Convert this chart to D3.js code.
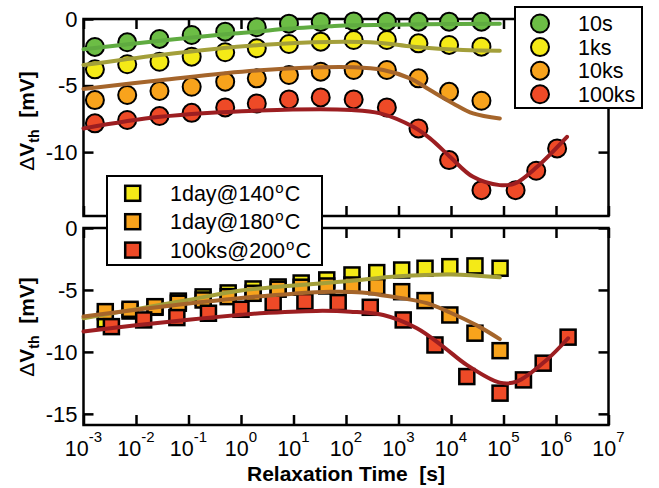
<!DOCTYPE html>
<html><head><meta charset="utf-8">
<script src="https://cdn.jsdelivr.net/npm/d3@7"></script>
<style>body{margin:0;background:#fff}svg{display:block}text{font-family:"Liberation Sans",Arial,Helvetica,sans-serif}</style>
</head><body>
<svg id="c" width="659" height="488"></svg>
<script>
// ---------- data ----------
const xTickValues = [1e-3,1e-2,1e-1,1e0,1e1,1e2,1e3,1e4,1e5,1e6,1e7];
const xTickExponents = ["-3","-2","-1","0","1","2","3","4","5","6","7"];
const yTopTicks = [0,-5,-10];
const yBotTicks = [0,-5,-10,-15];

// top panel: stress time series (circles)
const topSeriesNames = ["10s","1ks","10ks","100ks"];
const topTimes = [1.65e-3,6.8e-3,0.028,0.115,0.5,2.0,8.2,33,140,600,2400,9200,3.8e4,1.7e5,4.2e5,1.05e6];
const dv10s   = [-2.1,-1.75,-1.5,-1.2,-0.95,-0.62,-0.35,-0.22,-0.18,-0.2,-0.2,-0.2,-0.2];
const dv1ks   = [-3.78,-3.4,-3.21,-2.83,-2.5,-2.2,-1.88,-1.7,-1.58,-1.58,-1.83,-1.95,-2.08];
const dv10ks  = [-6.09,-5.71,-5.41,-5.09,-4.71,-4.46,-4.21,-3.96,-3.83,-3.83,-4.46,-5.47,-6.14];
const dv100ks = [-7.84,-7.59,-7.29,-7.05,-6.64,-6.34,-6.04,-5.89,-6.04,-6.64,-8.22,-10.6,-12.86,-12.86,-11.4,-9.72];

// top panel fitted curves
const fit10sT   = [1e-3,0.029,0.5,2.3,5.5,49,141,3200,8.5e4];
const fit10sV   = [-2.28,-1.63,-1.15,-0.93,-0.77,-0.55,-0.47,-0.4,-0.36];
const fit1ksT   = [1e-3,0.029,2.3,49,398,1905,17000,8.5e4];
const fit1ksV   = [-3.46,-2.7,-1.95,-1.72,-1.78,-2.08,-2.33,-2.38];
const fit10ksT  = [1e-3,0.029,2.3,141,513,1660,3980,10960,26300,8.5e4];
const fit10ksV  = [-5.26,-4.6,-3.85,-3.62,-3.83,-4.46,-5.34,-6.34,-7.09,-7.47];
const fit100ksT = [1e-3,0.029,2.3,126,447,1905,3980,9550,26300,8.5e4,1.66e5,4.37e5,1.62e6];
const fit100ksV = [-8.22,-7.35,-6.88,-6.84,-7.09,-8.1,-8.97,-10.35,-11.86,-12.48,-12.35,-11.1,-8.85];

// bottom panel: stress conditions (squares)
const botSeriesNames = ["1day@140","1day@180","100ks@200"];
const botTimes = [2.6e-3,7.7e-3,0.023,0.064,0.19,0.57,1.7,5.1,14,43,130,385,1150,3200,9500,28600,8.6e4];
const dv140 = [-7.4,-6.7,-6.4,-5.9,-5.56,-5.24,-4.92,-4.76,-4.44,-4.19,-3.79,-3.6,-3.39,-3.25,-3.12,-3.06,-3.25];
const dv180 = [-6.75,-6.56,-6.35,-6.07,-5.81,-5.54,-5.27,-4.94,-4.78,-4.68,-4.6,-4.73,-5.14,-5.86,-7.02,-8.49,-9.9];
const redTimes = [3.4e-3,0.014,0.06,0.24,1.0,4.1,16.5,71,290,1230,4950,2.0e4,8.6e4,2.4e5,5.7e5,1.7e6];
const dv200 = [-7.96,-7.42,-7.23,-6.88,-6.56,-6.07,-5.94,-6.02,-6.4,-7.42,-9.44,-11.99,-13.33,-12.26,-10.91,-8.81];

// bottom panel fitted curves
const fit140T = [1e-3,0.01,0.1,1,10,100,1000,1e4,8.5e4];
const fit140V = [-7.28,-6.55,-5.8,-5.05,-4.65,-4.3,-3.9,-3.75,-3.98];
const fit180T = [1e-3,0.01,0.1,1,10,50,200,447,1175,3470,9550,31600,8.5e4];
const fit180V = [-7.15,-6.6,-6.1,-5.65,-5.3,-5.15,-5.2,-5.4,-5.67,-6.07,-6.82,-7.88,-8.97];
const fit200T = [1e-3,0.01,0.1,1,2.3,27.5,120,513,2240,7080,19950,8.5e4,1.78e5,6.61e5,1.7e6];
const fit200V = [-8.36,-7.85,-7.4,-7.0,-6.88,-6.69,-6.75,-7.02,-8.09,-9.57,-11.05,-12.48,-12.4,-10.65,-8.9];

// ---------- styles ----------
const fillGreen="#6cbd45", fillYellow="#f4ea17", fillOrange="#f8a31c", fillRed="#ee4a27";
const lnGreen="#5fab40", lnOlive="#a39f3a", lnBrown="#a5652b", lnRed="#9c1e21";

const svg = d3.select("#c");
const X0=83.5, X1=608.5;
const x = d3.scaleLog().domain([1e-3,1e7]).range([X0,X1]);
const yTop = d3.scaleLinear().domain([-14.8,0]).range([216,19]);
const yBot = d3.scaleLinear().domain([-15.9,0]).range([425,228]);

function panel(y, yticks){
  const g = svg.append("g");
  const [yb,yt] = y.range();
  const ax = [
    [d3.axisBottom(x).tickValues(xTickValues).tickSize(-10).tickFormat(""), `translate(0,${yb})`],
    [d3.axisTop(x).tickValues(xTickValues).tickSize(-10).tickFormat(""), `translate(0,${yt})`],
    [d3.axisLeft(y).tickValues(yticks).tickSize(-10).tickFormat(""), `translate(${X0},0)`],
    [d3.axisRight(y).tickValues(yticks).tickSize(-10).tickFormat(""), `translate(${X1},0)`]
  ];
  ax.forEach(([a,t])=>{
    const gg = g.append("g").attr("transform",t).call(a);
    gg.select(".domain").remove();
    gg.selectAll("line").attr("stroke","#000").attr("stroke-width",2.5);
  });
  g.append("rect").attr("x",X0).attr("y",yt).attr("width",X1-X0).attr("height",yb-yt)
    .attr("fill","none").attr("stroke","#000").attr("stroke-width",2.5);
  g.selectAll("text.yl").data(yticks).join("text").attr("class","yl")
    .attr("x",X0-6).attr("y",d=>y(d)).attr("dy","0.36em").attr("text-anchor","end")
    .attr("font-size",22).text(d=>d===0?"0":"-"+Math.abs(d));
  return g;
}

const gTop = panel(yTop, yTopTicks);
const gBot = panel(yBot, yBotTicks);

function circles(g, vals, fill){
  g.append("g").selectAll("circle").data(vals).join("circle")
    .attr("cx",(d,i)=>x(topTimes[i])).attr("cy",d=>yTop(d)).attr("r",9)
    .attr("fill",fill).attr("stroke","#000").attr("stroke-width",2);
}
function squares(g, times, vals, fill){
  const s=15;
  g.append("g").selectAll("rect").data(vals).join("rect")
    .attr("x",(d,i)=>x(times[i])-s/2).attr("y",d=>yBot(d)-s/2).attr("width",s).attr("height",s)
    .attr("fill",fill).attr("stroke","#000").attr("stroke-width",2.5);
}
function curve(g, y, T, V, color){
  const line = d3.line().x(d=>x(d[0])).y(d=>y(d[1])).curve(d3.curveCatmullRom.alpha(0.5));
  g.append("path").attr("d", line(T.map((t,i)=>[t,V[i]])))
    .attr("fill","none").attr("stroke",color).attr("stroke-width",4).attr("stroke-linecap","round");
}

circles(gTop, dv10s, fillGreen);
circles(gTop, dv1ks, fillYellow);
circles(gTop, dv10ks, fillOrange);
circles(gTop, dv100ks, fillRed);
curve(gTop, yTop, fit10sT, fit10sV, lnGreen);
curve(gTop, yTop, fit1ksT, fit1ksV, lnOlive);
curve(gTop, yTop, fit10ksT, fit10ksV, lnBrown);
curve(gTop, yTop, fit100ksT, fit100ksV, lnRed);

squares(gBot, botTimes, dv140, fillYellow);
squares(gBot, botTimes, dv180, fillOrange);
squares(gBot, redTimes, dv200, fillRed);
curve(gBot, yBot, fit140T, fit140V, lnOlive);
curve(gBot, yBot, fit180T, fit180V, lnBrown);
curve(gBot, yBot, fit200T, fit200V, lnRed);

// x tick labels
const xl = svg.append("g").selectAll("text").data(xTickValues).join("text")
  .attr("x",d=>x(d)).attr("y",456).attr("text-anchor","middle").attr("font-size",21.5);
xl.append("tspan").text("10");
xl.append("tspan").attr("dy",-14).attr("font-size",15).text((d,i)=>xTickExponents[i]);

// axis titles
svg.append("text").attr("x",(X0+X1)/2).attr("y",481).attr("text-anchor","middle")
  .attr("font-size",21).attr("font-weight","bold").text("Relaxation Time\u00a0\u00a0[s]");
function ytitle(cy){
  const t = svg.append("text").attr("transform",`translate(34,${cy}) rotate(-90)`)
    .attr("text-anchor","middle").attr("font-size",21).attr("font-weight","bold");
  t.append("tspan").attr("font-weight","normal").text("\u0394");
  t.append("tspan").text("V");
  t.append("tspan").attr("font-size",14).attr("dy",5).text("th");
  t.append("tspan").attr("dy",-5).text("\u00a0\u00a0[mV]");
}
ytitle(121);
ytitle(327);

// top legend
const lg1 = svg.append("g");
lg1.append("rect").attr("x",515).attr("y",7).attr("width",127).attr("height",101)
  .attr("fill","#fff").attr("stroke","#000").attr("stroke-width",2);
const l1fills=[fillGreen,fillYellow,fillOrange,fillRed];
topSeriesNames.forEach((n,i)=>{
  const cy = 23.5+i*23.6;
  lg1.append("circle").attr("cx",540).attr("cy",cy).attr("r",9).attr("fill",l1fills[i])
    .attr("stroke","#000").attr("stroke-width",2);
  lg1.append("text").attr("x",578).attr("y",cy).attr("dy","0.36em").attr("font-size",21.5).text(n);
});

// bottom legend
const lg2 = svg.append("g");
lg2.append("rect").attr("x",107).attr("y",176).attr("width",215).attr("height",89)
  .attr("fill","#fff").attr("stroke","#000").attr("stroke-width",2);
const l2fills=[fillYellow,fillOrange,fillRed];
botSeriesNames.forEach((n,i)=>{
  const cy = 193.3+i*28.4;
  lg2.append("rect").attr("x",132.7-7.5).attr("y",cy-7.5).attr("width",15).attr("height",15)
    .attr("fill",l2fills[i]).attr("stroke","#000").attr("stroke-width",2.5);
  const t = lg2.append("text").attr("x",170).attr("y",cy).attr("dy","0.36em").attr("font-size",21.5);
  t.append("tspan").text(n);
  t.append("tspan").attr("dx",1).attr("dy",-8).attr("font-size",15).text("o");
  t.append("tspan").attr("dx",1).attr("dy",8).text("C");
});
</script>
</body></html>
